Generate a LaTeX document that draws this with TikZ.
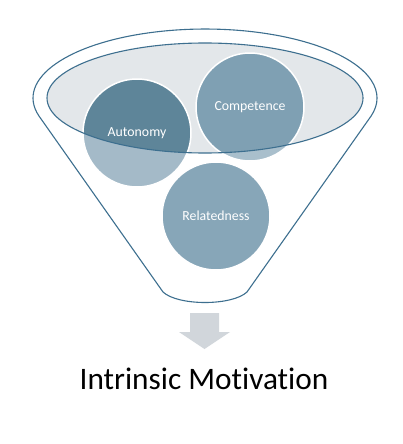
\documentclass[tikz,border=0pt]{standalone}
\usepackage{fontspec}
\setmainfont[Ligatures=NoCommon,RawFeature={-liga}]{Carlito}
\definecolor{fline}{HTML}{3D6F8F}
\definecolor{ellfill}{HTML}{E3E7EA}
\definecolor{autin}{HTML}{5E8599}
\definecolor{autout}{HTML}{A4BAC8}
\definecolor{compin}{HTML}{7FA0B3}
\definecolor{compout}{HTML}{A9BFCC}
\definecolor{relc}{HTML}{87A6B8}
\definecolor{arrowc}{HTML}{D1D6DB}
\begin{document}
\begin{tikzpicture}[x=1pt,y=-1pt,line join=round,
  funnel/.style={draw=fline,line width=1.1pt},
  rim/.style={draw=white,line width=1.5pt},
  lbl/.style={text=white,inner sep=0pt,font=\fontsize{13.8}{15}\selectfont},
  title/.style={text=black,inner sep=0pt,anchor=base,font=\fontsize{31.3}{36}\selectfont}]
\useasboundingbox (0,0) rectangle (402,444);
% outer funnel
\draw[funnel,fill=white] (163,292) -- (38.9,115.9)
  arc[start angle=165,end angle=375,x radius=172,y radius=69]
  -- (247,292) .. controls (232,306) and (178,306) .. cycle;
% inner ellipse
\coordinate (top) at (205,98);
\fill[ellfill] (top) ellipse [x radius=158,y radius=55];
% circle centres
\coordinate (aut) at (137,133);
\coordinate (comp) at (250,107);
\coordinate (rel) at (216,216);
\fill[autout] (aut) circle [radius=54];
\fill[compout] (comp) circle [radius=54];
\fill[relc] (rel) circle [radius=54];
\begin{scope}
  \clip (top) ellipse [x radius=158,y radius=55];
  \fill[autin] (aut) circle [radius=54];
  \fill[compin] (comp) circle [radius=54];
\end{scope}
\draw[rim] (aut) circle [radius=54];
\draw[rim] (comp) circle [radius=54];
\draw[rim] (rel) circle [radius=54];
\draw[funnel] (top) ellipse [x radius=158,y radius=55];
\node[lbl] (autl) at (aut) {Autonomy};
\node[lbl] (compl) at (comp) {Competence};
\node[lbl] (rell) at (rel) {Relatedness};
% arrow
\fill[arrowc] (190,313) -- (219,313) -- (219,332) -- (230,332) -- (204.5,349)
  -- (179,332) -- (190,332) -- cycle;
\node[title] (im) at (204,389) {Intrinsic Motivation};
\end{tikzpicture}
\end{document}
